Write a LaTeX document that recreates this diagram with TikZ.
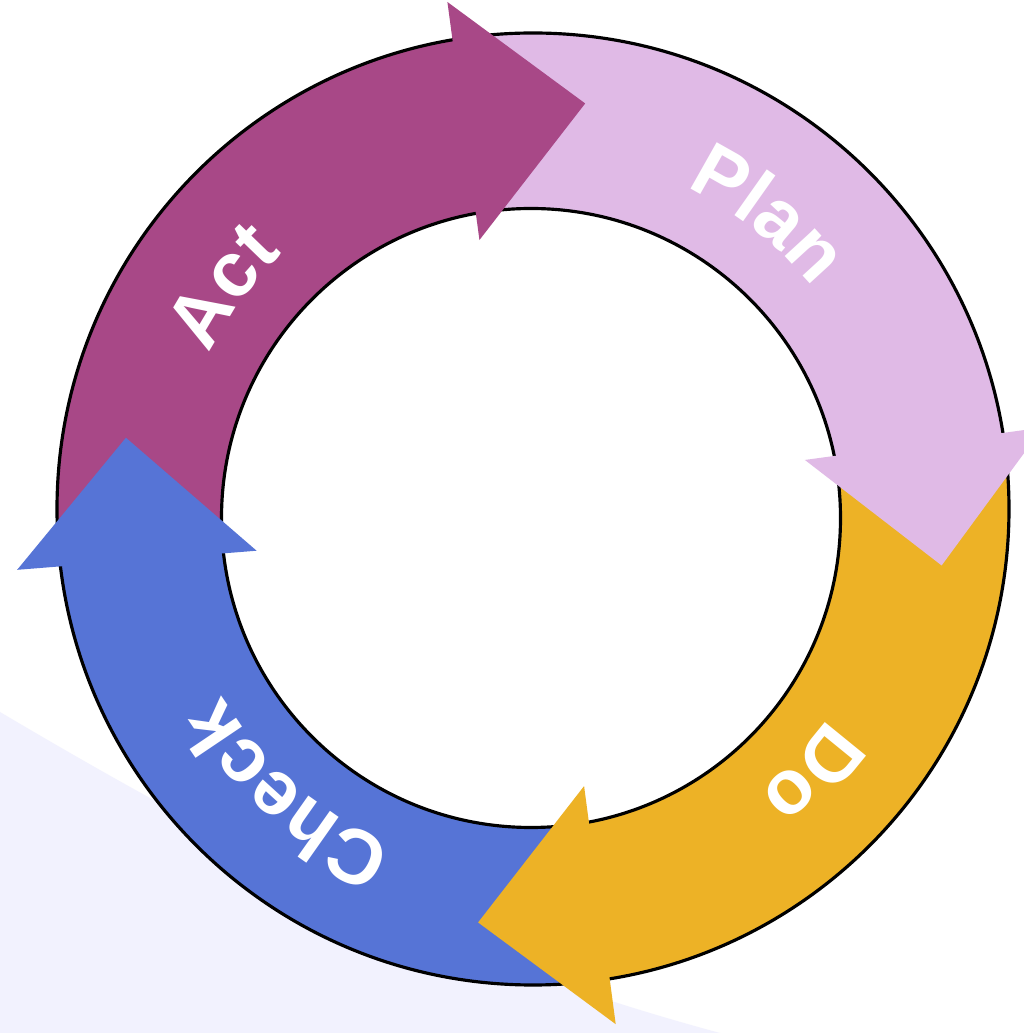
\documentclass[tikz,border=0pt]{standalone}
\usepackage{fontspec}
\setmainfont{Liberation Sans}
\usetikzlibrary{decorations.text}
\definecolor{actcol}{HTML}{A84887}
\definecolor{plancol}{HTML}{E0BAE6}
\definecolor{docol}{HTML}{EDB226}
\definecolor{checkcol}{HTML}{5674D6}
\definecolor{bgcol}{HTML}{F2F2FE}
\newcommand\lblfont{\fontsize{22}{26}\selectfont\bfseries}
\tikzset{
  ringline/.style={line width=0.9pt, draw=black},
  headfill/.style={fill=#1, draw=none},
}
% #1 centre angle, #2 text
\newcommand\arclabel[2]{%
  \pgfmathsetmacro\sa{#1+35}%
  \pgfmathsetmacro\ea{#1-35}%
  \path[decorate, decoration={text along path, text={|\lblfont|#2}, text align=center, text color=white}]
    (\sa:360) arc[start angle=\sa, end angle=\ea, radius=360];
}
\begin{document}
\begin{tikzpicture}[x=0.01cm,y=0.01cm]
\useasboundingbox (0,0) rectangle (1024,1033);
\clip (0,0) rectangle (1024,1033);
\fill[white] (0,0) rectangle (1024,1033);
\fill[bgcol] (0,321) .. controls (250,173) and (450,73) .. (720,0) -- (0,0) -- cycle;
\begin{scope}[shift={(532,520)}]
  % band bodies
  \foreach \a/\b/\c in {8.2/98.1/plancol, -82/8.2/docol, -175/-82/checkcol, 98.1/185/actcol} {
    \begin{scope}
      \clip (0,0) -- (\a:700) arc[start angle=\a, end angle=\b, radius=700] -- cycle;
      \fill[\c, even odd rule] (1,4) circle[radius=476] (-1,-5) circle[radius=309.5];
    \end{scope}
  }
  \draw[ringline] (1,4) circle[radius=476];
  \draw[ringline] (-1,-5) circle[radius=309.5];
  % arrow heads
  \foreach \t/\c in {82.6/actcol, -7.3/plancol, -97.5/docol, 169.5/checkcol} {
    \pgfmathsetmacro\ao{\t+16.8}
    \pgfmathsetmacro\ai{\t+18.3}
    \path[headfill=\c] (\ao:518) -- (\t:413) -- (\ai:278) -- cycle;
  }
  % labels
  \arclabel{51.7}{Plan}
  \arclabel{-42.9}{Do}
  \arclabel{-131}{Check}
  \arclabel{143.8}{Act}
\end{scope}
\end{tikzpicture}
\end{document}
